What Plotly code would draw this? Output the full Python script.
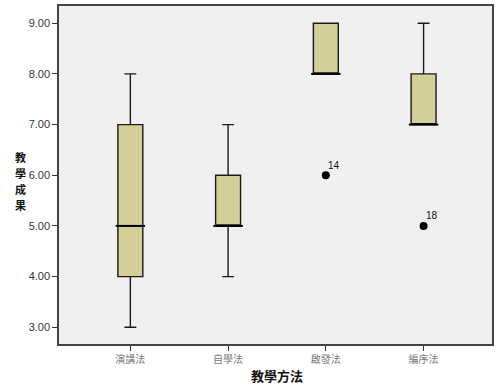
import plotly.graph_objects as go

categories = ["演講法", "自學法", "啟發法", "編序法"]
lower_whisker = [3.0, 4.0, 8.0, 7.0]
q1_values = [4.0, 5.0, 8.0, 7.0]
median_values = [5.0, 5.0, 8.0, 7.0]
q3_values = [7.0, 6.0, 9.0, 8.0]
upper_whisker = [8.0, 7.0, 9.0, 9.0]

outlier_categories = ["啟發法", "編序法"]
outlier_values = [6.0, 5.0]
outlier_labels = ["14", "18"]

y_tick_values = [3, 4, 5, 6, 7, 8, 9]
y_tick_labels = ["3.00", "4.00", "5.00", "6.00", "7.00", "8.00", "9.00"]

y_title_chars = ["教", "學", "成", "果"]
x_title = "教學方法"

fig = go.Figure()
fig.add_trace(go.Box(
    x=categories,
    q1=q1_values,
    median=median_values,
    q3=q3_values,
    lowerfence=lower_whisker,
    upperfence=upper_whisker,
    boxpoints=False,
    width=0.255,
    whiskerwidth=0.48,
    fillcolor="#d4cf98",
    line=dict(color="#1a1a1a", width=1.4),
    showlegend=False,
    hoverinfo="skip",
))
# thicker median lines
fig.add_trace(go.Scatter(
    x=categories,
    y=median_values,
    mode="markers",
    marker=dict(symbol="line-ew", size=21, line=dict(width=2, color="black")),
    showlegend=False,
    hoverinfo="skip",
))
fig.add_trace(go.Scatter(
    x=outlier_categories,
    y=outlier_values,
    mode="markers",
    marker=dict(color="black", size=8),
    showlegend=False,
    hoverinfo="skip",
))

annotations = []
for cat, val, lab in zip(outlier_categories, outlier_values, outlier_labels):
    annotations.append(dict(
        x=cat, y=val, xref="x", yref="y", text=lab, showarrow=False,
        xshift=8, yshift=10,
        font=dict(family="Liberation Sans, Arial", size=10, color="#111"),
    ))
for i, ch in enumerate(y_title_chars):
    annotations.append(dict(
        text="<b>" + ch + "</b>",
        xref="paper", yref="paper",
        x=-0.089, y=0.553 - i * 0.0473, xanchor="center", yanchor="middle",
        showarrow=False, borderpad=0,
        font=dict(family="Noto Sans CJK TC", size=11, color="#111"),
    ))
annotations.append(dict(
    text="<b>" + x_title + "</b>",
    xref="paper", yref="paper",
    x=0.503, y=-0.092, xanchor="center", yanchor="middle",
    showarrow=False,
    font=dict(family="Noto Sans CJK TC", size=13, color="#111"),
))

fig.update_layout(
    width=500, height=390,
    margin=dict(l=59, r=8, t=6, b=46, autoexpand=False),
    paper_bgcolor="white",
    plot_bgcolor="#f0f0f0",
    xaxis=dict(
        type="category",
        categoryorder="array", categoryarray=categories,
        range=[-0.73, 3.70],
        showgrid=False, zeroline=False, automargin=False,
        showline=True, mirror=True, linecolor="#444", linewidth=1.5,
        ticks="outside", ticklen=5, tickcolor="#333",
        tickfont=dict(family="Noto Sans CJK TC", size=10, color="#777"),
    ),
    yaxis=dict(
        range=[2.67, 9.34],
        tickvals=y_tick_values, ticktext=y_tick_labels,
        showgrid=False, zeroline=False, automargin=False,
        showline=True, mirror=True, linecolor="#444", linewidth=1.5,
        ticks="outside", ticklen=5, tickcolor="#333",
        tickfont=dict(family="Liberation Sans, Arial", size=11, color="#333"),
    ),
    annotations=annotations,
)

fig.write_html("out.html", config={"displayModeBar": False},
               post_script="document.body.style.margin='0';")
